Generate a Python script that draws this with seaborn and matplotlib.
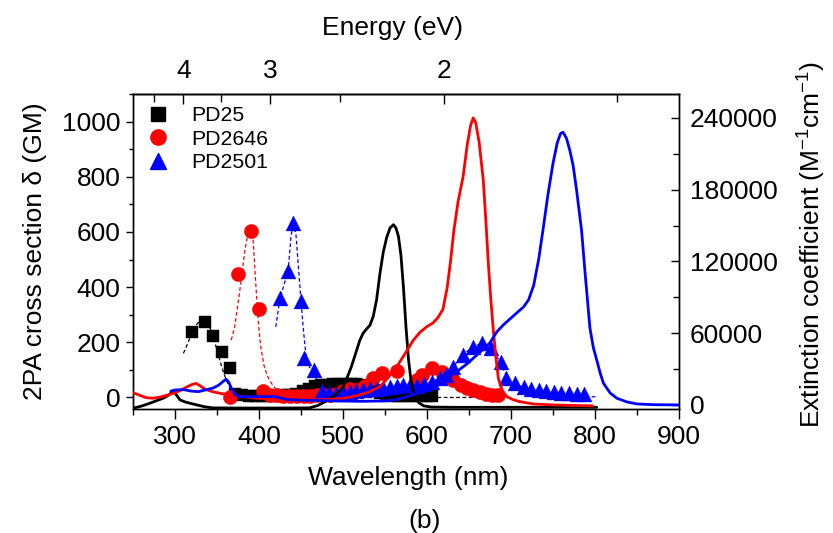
import numpy as np
import pandas as pd
import matplotlib
matplotlib.use("Agg")
import matplotlib.pyplot as plt
from matplotlib.ticker import MultipleLocator, FixedLocator, ScalarFormatter
from matplotlib.lines import Line2D
import seaborn as sns

sns.set_style("ticks")
plt.rcParams['font.family'] = ['Liberation Sans', 'DejaVu Sans']
plt.rcParams['mathtext.fontset'] = 'custom'
plt.rcParams['mathtext.rm'] = 'Liberation Sans'
plt.rcParams['mathtext.it'] = 'Liberation Sans'
plt.rcParams['mathtext.default'] = 'regular'
for k in ['text.color', 'axes.labelcolor', 'xtick.color', 'ytick.color', 'axes.edgecolor']:
    plt.rcParams[k] = 'black'

# ---------------- data: extinction spectra (right axis) ----------------
pd25_ext_wl = [250, 260, 270, 278, 286, 292, 296, 299, 302, 306, 312, 320, 326, 335, 345, 380, 420, 460, 470,
               478, 488, 495, 500, 505, 510, 515, 520, 524, 528, 532, 536, 540, 544, 548, 552, 556, 560,
               563, 566, 569, 572, 575, 578, 581, 585, 590, 596, 605, 630, 700, 802]
pd25_ext = [-2800, -1000, 1400, 3500, 5600, 8000, 10500, 11100, 8000, 4200, 2500, 1000, 0, -1500, -2500, -2600,
            -2600, -2500, -500, 2500, 7000, 11000, 15300, 23000, 32000, 43000, 54000, 60000, 63500, 66500,
            74000, 88000, 110000, 128000, 140000, 148000, 150700, 148000, 141000, 125000, 98000, 65000,
            38000, 20000, 8000, 2000, -800, -1800, -2000, -2000, -2000]

pd2646_ext_wl = [250, 258, 266, 274, 282, 290, 298, 306, 314, 320, 325, 330, 336, 345, 355, 365, 380, 397, 420,
                 450, 480, 500, 515, 530, 544, 554, 564, 574, 584, 592, 600, 607, 613, 619, 624, 628, 632, 637,
                 643, 648, 652, 655, 658, 662, 667, 670, 673, 676, 679, 682, 685, 690, 695, 702, 710, 726,
                 750, 775, 797]
pd2646_ext = [10300, 8000, 6000, 5600, 6500, 8000, 9800, 12000, 15000, 17000, 18000, 16000, 13000, 11000, 9500,
              8400, 7000, 5600, 5000, 4500, 4500, 5500, 7500, 10500, 15300, 23000, 32000, 43000, 54400, 61000,
              65500, 68500, 73000, 80000, 98000, 120000, 146000, 170000, 191000, 218000, 234000, 240000,
              236000, 220000, 188000, 155000, 118600, 88000, 62000, 40000, 22000, 11000, 7000, 4500, 2800,
              800, 0, -500, -800]

pd2501_ext_wl = [295, 300, 310, 320, 328, 336, 345, 352, 357, 361, 364, 367, 371, 376, 390, 410, 420, 433, 450,
                 480, 520, 550, 565, 576, 590, 604, 617, 631, 647, 663, 675, 683, 691, 699, 707, 715, 721,
                 727, 733, 738, 744, 750, 755, 759, 762, 766, 770, 774, 778, 781, 784, 788, 791, 794, 798,
                 802, 806, 810, 818, 826, 838, 850, 870, 900]
pd2501_ext = [11500, 12500, 12800, 11500, 11100, 12500, 14000, 16500, 19500, 21500, 19000, 14000, 9000, 7000,
              6800, 7000, 6800, 4500, 4000, 3500, 3000, 3300, 4500, 7000, 10000, 14000, 19000, 25500, 34000,
              44000, 52000, 61000, 67000, 72000, 77000, 82000, 88000, 100000, 122000, 146000, 176000, 202000,
              219000, 227000, 228000, 223000, 213000, 200000, 180000, 163000, 146000, 112000, 88000, 64000,
              48000, 37700, 27000, 18200, 10000, 5600, 2500, 800, 200, 0]

# ---------------- data: 2PA cross sections (left axis) ----------------
pd25_2pa_wl = [320, 336, 345, 356, 365, 372, 380, 388, 396, 404, 412, 420, 428, 436, 444, 452, 460, 467, 474,
               481, 488, 495, 502, 509, 516, 523, 530, 537, 544, 551, 558, 565, 572, 579, 586, 593, 600, 606]
pd25_2pa = [238, 275, 223, 166, 106, 12, 8, 6, 5, 5, 5, 6, 8, 10, 14, 22, 32, 40, 44, 46, 47, 48, 48, 49, 48,
            45, 38, 27, 15, 9, 6, 5, 5, 5, 5, 5, 5, 5]

pd2646_2pa_wl = [365, 375, 390, 400, 405, 413, 421, 429, 437, 445, 453, 461, 469, 477, 485, 493, 500, 508,
                 517, 526, 536, 546, 564, 588, 594, 606, 618, 625, 631, 641, 648, 655, 663, 670, 677, 685]
pd2646_2pa = [2, 446, 605, 320, 25, 10, 8, 7, 7, 7, 7, 7, 8, 9, 10, 12, 22, 30, 28, 40, 70, 88, 97, 65, 82,
              106, 94, 75, 62, 45, 33, 27, 18, 13, 10, 9]

pd2501_2pa_wl = [425, 435, 440, 450, 454, 465, 475, 483, 492, 500, 508, 516, 524, 532, 540, 548, 556, 564,
                 572, 580, 588, 596, 606, 615, 623, 631, 643, 655, 665, 676, 688, 694, 705, 715, 724, 733,
                 742, 751, 760, 769, 778, 787]
pd2501_2pa = [361, 460, 631, 351, 142, 100, 25, 15, 14, 18, 20, 22, 26, 30, 32, 34, 38, 40, 46, 44, 42, 50,
              57, 70, 80, 112, 154, 184, 196, 178, 130, 70, 51, 39, 32, 27, 23, 20, 17, 15, 13, 12]

# ---------------- data: 2PA fit curves (dashed) ----------------
pd25_fit_wl = [310, 315, 320, 325, 330, 334, 338, 342, 346, 350, 354, 358, 362, 366, 370, 376, 385, 400, 450,
               500, 600, 698]
pd25_fit = [160, 195, 232, 262, 279, 282, 272, 250, 215, 172, 128, 88, 56, 33, 18, 8, 3, 1, 0, 0, 0, 0]

pd2646_fit_wl = [367, 371, 375, 379, 383, 387, 390, 393, 396, 399, 402, 406, 410, 414, 418, 422, 428, 436,
                 450, 480, 520]
pd2646_fit = [208, 255, 340, 430, 530, 600, 612, 570, 420, 280, 185, 115, 78, 55, 38, 25, 14, 9, 7, 6, 6]

pd2501_fit_wl = [420, 425, 430, 435, 438, 441, 444, 447, 450, 453, 456, 460, 465, 470, 475, 480, 490, 500,
                 520, 540, 560, 580, 600, 615, 625, 635, 645, 655, 665, 675, 685, 692, 698, 705, 720, 740,
                 760, 780, 802]
pd2501_fit = [256, 361, 410, 470, 580, 635, 590, 470, 351, 240, 150, 110, 95, 55, 25, 14, 12, 14, 20, 28, 36,
              44, 52, 68, 90, 125, 160, 185, 195, 180, 140, 95, 60, 48, 30, 18, 10, 5, 2]

series_names = ["PD25", "PD2646", "PD2501"]
series_colors = ["#000000", "#ff0000", "#0000ff"]

# ---------------- figure ----------------
W, H = 833, 533
fig = plt.figure(figsize=(W / 100, H / 100), dpi=100)
ax = fig.add_axes([133 / W, 1 - 408.5 / H, 546 / W, 314.5 / H])
ax2 = ax.twinx()

FS = 19

def nm2ev(x):
    x = np.asarray(x, dtype=float)
    with np.errstate(divide='ignore'):
        return 1239.84 / np.where(x == 0, 1e-9, x)

markers = ["s", "o", "^"]
sizes = [78, 105, 115]
pa_wl = [pd25_2pa_wl, pd2646_2pa_wl, pd2501_2pa_wl]
pa_val = [pd25_2pa, pd2646_2pa, pd2501_2pa]
fit_wl = [pd25_fit_wl, pd2646_fit_wl, pd2501_fit_wl]
fit_val = [pd25_fit, pd2646_fit, pd2501_fit]
ext_wl = [pd25_ext_wl, pd2646_ext_wl, pd2501_ext_wl]
ext_val = [pd25_ext, pd2646_ext, pd2501_ext]

for i in range(3):
    c = series_colors[i]
    sns.lineplot(x=fit_wl[i], y=fit_val[i], ax=ax, color=c, lw=0.9, linestyle=(0, (3, 2)),
                 estimator=None, sort=False, zorder=2)
    sns.scatterplot(x=pa_wl[i], y=pa_val[i], ax=ax, marker=markers[i], s=sizes[i], color=c,
                    edgecolor=c, linewidth=0.3, zorder=3)

for i in range(3):
    sns.lineplot(x=ext_wl[i], y=ext_val[i], ax=ax2, color=series_colors[i], lw=2.0,
                 estimator=None, sort=False, zorder=4)

ax.set_xlim(250, 900)
ax.set_ylim(-40, 1100)
ax2.set_ylim(-3000, 260000)

ax.xaxis.set_major_locator(MultipleLocator(100))
ax.xaxis.set_minor_locator(MultipleLocator(50))
ax.yaxis.set_major_locator(FixedLocator([0, 200, 400, 600, 800, 1000]))
ax.yaxis.set_minor_locator(FixedLocator([100, 300, 500, 700, 900, 1100]))
ax2.yaxis.set_major_locator(FixedLocator([0, 60000, 120000, 180000, 240000]))
ax2.yaxis.set_minor_locator(FixedLocator([30000, 90000, 150000, 210000]))
fmt = ScalarFormatter(useOffset=False)
fmt.set_scientific(False)
ax2.yaxis.set_major_formatter(fmt)

ax.set_xlabel("")
ax.set_ylabel("")
ax2.set_ylabel("")

for a in (ax, ax2):
    for s in a.spines.values():
        s.set_linewidth(1.0)
        s.set_color("black")
        s.set_visible(True)

ax.tick_params(axis='x', which='major', direction='out', length=7, width=1, labelsize=FS, pad=5, top=False)
ax.tick_params(axis='x', which='minor', direction='out', length=4, width=1, top=False)
ax.tick_params(axis='y', which='major', direction='out', length=5, width=1, labelsize=FS, pad=4, right=False)
ax.tick_params(axis='y', which='minor', direction='out', length=3, width=1, right=False)
ax2.tick_params(axis='y', which='major', direction='in', length=6, width=1, labelsize=FS, pad=8)
ax2.tick_params(axis='y', which='minor', direction='in', length=4, width=1)

sec = ax.secondary_xaxis('top', functions=(nm2ev, nm2ev))
sec.xaxis.set_major_locator(FixedLocator([4, 3, 2]))
sec.xaxis.set_minor_locator(FixedLocator([4.5, 3.5, 2.5, 1.5]))
sec.set_xticklabels(["4", "3", "2"])
sec.tick_params(axis='x', which='major', direction='in', length=7, width=1, labelsize=FS, pad=8)
sec.tick_params(axis='x', which='minor', direction='in', length=6, width=1)
sec.spines['top'].set_linewidth(1.0)

# axis titles
fig.text(35 / W, 1 - 251 / H, "2PA cross section \u03b4 (GM)", rotation=90, ha='center', va='center', fontsize=FS)
fig.text(812 / W, 1 - 245 / H, "Extinction coefficient (M$^{-1}$cm$^{-1}$)", rotation=90,
         ha='center', va='center', fontsize=FS)
fig.text(408 / W, 1 - 478 / H, "Wavelength (nm)", ha='center', va='center', fontsize=FS)
fig.text(392 / W, 1 - 28 / H, "Energy (eV)", ha='center', va='center', fontsize=FS)
fig.text(425 / W, 1 - 521 / H, "(b)", ha='center', va='center', fontsize=FS)

handles = [Line2D([], [], linestyle='none', marker=markers[i], color=series_colors[i],
                  markersize=[9.5, 11, 12][i]) for i in range(3)]
fig.legend(handles, series_names, loc='upper left', bbox_to_anchor=(147 / W, 1 - 106 / H),
           frameon=False, fontsize=15.3, handlelength=1.0, handletextpad=1.1, labelspacing=0.22,
           borderpad=0, borderaxespad=0)

fig.savefig("out.png", dpi=100)
